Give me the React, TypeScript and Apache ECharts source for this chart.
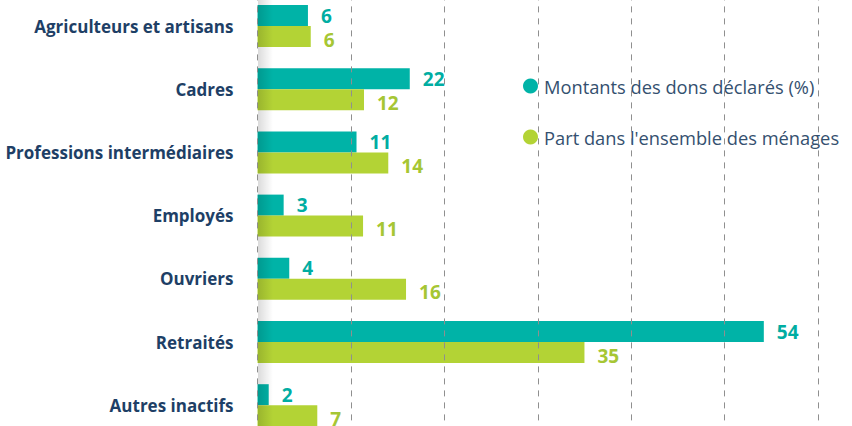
import React, { useEffect, useRef } from "react";
import * as echarts from "echarts";

const categories = [
  "Agriculteurs et artisans",
  "Cadres",
  "Professions intermédiaires",
  "Employés",
  "Ouvriers",
  "Retraités",
  "Autres inactifs",
];
// bar lengths as drawn in the reference
const donsValues = [5.4, 16.3, 10.6, 2.8, 3.4, 54.2, 1.2];
const menagesValues = [5.7, 11.4, 14.0, 11.3, 15.9, 35.0, 6.4];
// numbers printed next to the bars
const donsLabels = [6, 22, 11, 3, 4, 54, 2];
const menagesLabels = [6, 12, 14, 11, 16, 35, 7];
const seriesNames = ["Montants des dons déclarés (%)", "Part dans l'ensemble des ménages"];

const TEAL = "#00b3a7";
const GREEN = "#b3d335";
const SHIFT = 10; // the chart div starts 10px above the page top

export default function App() {
  const ref = useRef<HTMLDivElement>(null);
  useEffect(() => {
    if (!ref.current) return;
    const chart = echarts.init(ref.current, undefined, { renderer: "svg" });
    chart.setOption({
      animation: false,
      backgroundColor: "#ffffff",
      grid: { left: 257.5, right: 34, top: SHIFT - 5.6, bottom: 3.2, containLabel: false },
      legend: {
        orient: "vertical",
        left: 523,
        top: 77 + SHIFT,
        padding: 0,
        icon: "circle",
        itemWidth: 15,
        itemHeight: 15,
        itemGap: 33,
        textStyle: { fontFamily: "Open Sans", fontSize: 18.3, color: "#34506f", padding: [0, 0, 0, 1] },
        data: seriesNames,
      },
      xAxis: {
        type: "value",
        min: 0,
        max: 60,
        interval: 10,
        z: 5,
        axisLine: { show: false },
        axisTick: { show: false },
        axisLabel: { show: false },
        splitLine: { show: true, lineStyle: { type: [6, 6], color: "#8f8f8f", width: 1 } },
      },
      yAxis: {
        type: "category",
        inverse: true,
        data: categories,
        axisLine: { show: false },
        axisTick: { show: false },
        axisLabel: {
          margin: 24,
          fontFamily: "Open Sans",
          fontWeight: "bold",
          fontSize: 17,
          color: "#1e3f66",
        },
      },
      series: [
        {
          name: seriesNames[0],
          type: "bar",
          data: donsValues,
          barWidth: 21,
          barGap: "0%",
          itemStyle: { color: TEAL },
          label: {
            show: true,
            position: "right",
            distance: 13,
            fontFamily: "Open Sans",
            fontWeight: "bold",
            fontSize: 19,
            color: "#00ada2",
            formatter: (p: any) => String(donsLabels[p.dataIndex]),
          },
        },
        {
          name: seriesNames[1],
          type: "bar",
          data: menagesValues,
          barWidth: 21,
          barGap: "0%",
          itemStyle: { color: GREEN },
          label: {
            show: true,
            position: "right",
            distance: 13,
            offset: [0, 3],
            fontFamily: "Open Sans",
            fontWeight: "bold",
            fontSize: 19,
            color: "#a6c634",
            formatter: (p: any) => String(menagesLabels[p.dataIndex]),
          },
        },
      ],
      graphic: [
        {
          type: "rect",
          z: 10,
          silent: true,
          shape: { x: 258, y: 0, width: 15, height: 450 },
          style: {
            fill: new echarts.graphic.LinearGradient(0, 0, 1, 0, [
              { offset: 0, color: "rgba(0,0,0,0.14)" },
              { offset: 1, color: "rgba(0,0,0,0)" },
            ]),
          },
        },
      ],
    });
    return () => chart.dispose();
  }, []);
  return (
    <div
      ref={ref}
      style={{ position: "fixed", left: 0, top: -SHIFT, width: 852, height: 450, background: "#fff" }}
    />
  );
}
